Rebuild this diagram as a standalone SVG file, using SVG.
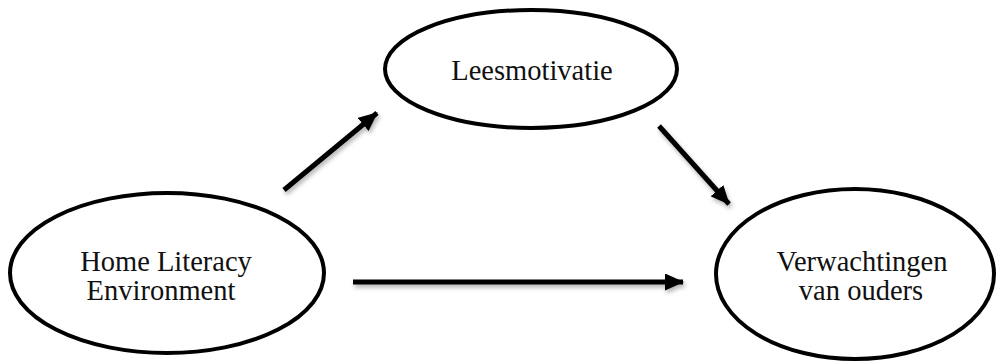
<svg xmlns="http://www.w3.org/2000/svg" width="996" height="362" viewBox="0 0 996 362">
<style>
.node{fill:#fff;stroke:#000;stroke-width:4}
.lbl{font-family:"Liberation Serif","Times New Roman",serif;font-size:28.5px;fill:#111;text-anchor:middle}
.conn{stroke:#000;stroke-width:5;fill:none;marker-end:url(#ah);filter:url(#sh)}
</style>
<defs>
<marker id="ah" markerUnits="userSpaceOnUse" markerWidth="19" markerHeight="17" refX="18" refY="8.5" orient="auto">
<path d="M0,0 L19,8.5 L0,17 z" fill="#000"/>
</marker>
<filter id="sh" filterUnits="userSpaceOnUse" x="0" y="0" width="996" height="362">
<feDropShadow dx="1.5" dy="3" stdDeviation="2" flood-color="#000" flood-opacity="0.3"/>
</filter>
</defs>
<rect width="996" height="362" fill="#fff"/>
<g id="connectors">
<line class="conn" x1="284" y1="190" x2="377" y2="113"/>
<line class="conn" x1="659" y1="126" x2="729" y2="204"/>
<line class="conn" x1="353" y1="282" x2="683" y2="282"/>
</g>
<g id="leesmotivatie">
<ellipse class="node" cx="531" cy="69" rx="146" ry="59"/>
<text class="lbl" x="532" y="80">Leesmotivatie</text>
</g>
<g id="hle">
<ellipse class="node" cx="167" cy="273" rx="157" ry="80"/>
<text class="lbl" x="166" y="271">Home Literacy</text>
<text class="lbl" x="161" y="300">Environment</text>
</g>
<g id="verwachtingen">
<ellipse class="node" cx="855" cy="274" rx="139" ry="85"/>
<text class="lbl" x="862" y="271">Verwachtingen</text>
<text class="lbl" x="861" y="300">van ouders</text>
</g>
</svg>
